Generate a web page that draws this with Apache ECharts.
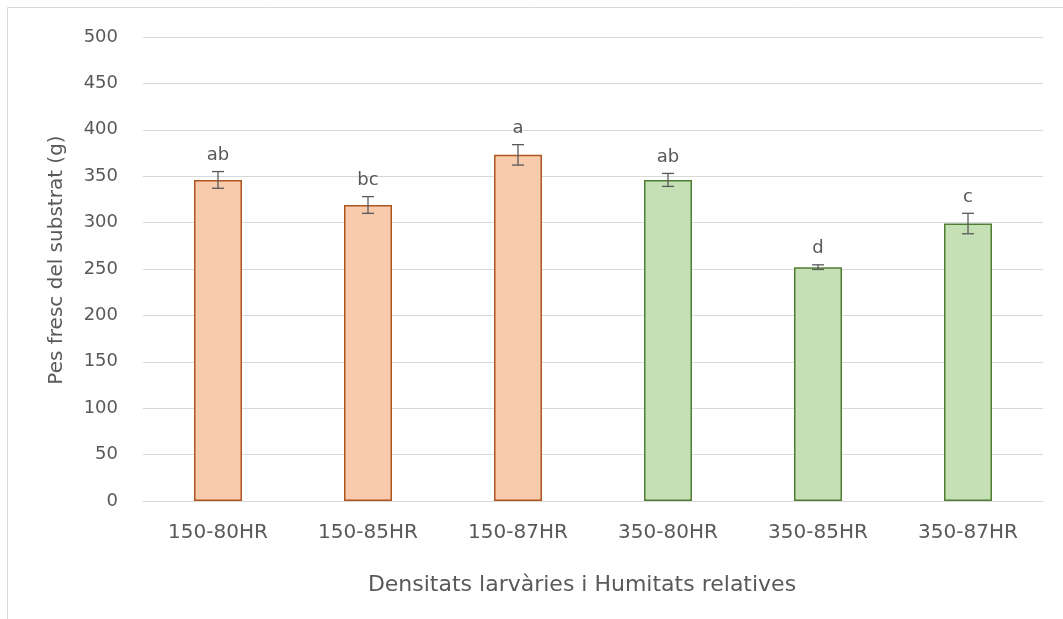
<!DOCTYPE html>
<html>
<head>
<meta charset="utf-8">
<script src="https://cdn.jsdelivr.net/npm/echarts@6/dist/echarts.min.js"></script>
<style>
  html, body { margin: 0; padding: 0; background: #fff; }
  #chart { width: 1063px; height: 619px; }
</style>
</head>
<body>
<div id="chart"></div>
<script>
// Fresh substrate weight by larval density and relative humidity
const categories = ['150-80HR', '150-85HR', '150-87HR', '350-80HR', '350-85HR', '350-87HR'];
const means = [346, 319, 373, 346, 252, 299];
const errors = [9, 9, 11, 7, 2.5, 11];
const letters = ['ab', 'bc', 'a', 'ab', 'd', 'c'];
const yTicks = [0, 50, 100, 150, 200, 250, 300, 350, 400, 450, 500];
const xTitle = 'Densitats larvàries i Humitats relatives';
const yTitle = 'Pes fresc del substrat (g)';

const fills = ['#F8CBAD', '#F8CBAD', '#F8CBAD', '#C5E0B4', '#C5E0B4', '#C5E0B4'];
const strokes = ['#AE5520', '#AE5520', '#AE5520', '#517D33', '#517D33', '#517D33'];
const textColor = '#595959';
const fontFamily = 'DejaVu Sans, Open Sans, sans-serif';

const chart = echarts.init(document.getElementById('chart'));

chart.setOption({
  animation: false,
  backgroundColor: '#fff',
  graphic: [
    {
      type: 'rect',
      shape: { x: 7.5, y: 7.5, width: 1100, height: 700 },
      style: { fill: 'none', stroke: '#D9D9D9', lineWidth: 1 },
      silent: true
    },
    {
      type: 'text',
      x: 582, y: 585,
      style: { text: xTitle, fill: textColor, font: '22px ' + fontFamily, align: 'center', verticalAlign: 'middle' }
    },
    {
      type: 'text',
      x: 57, y: 260,
      rotation: Math.PI / 2,
      style: { text: yTitle, fill: textColor, font: '20px ' + fontFamily, align: 'center', verticalAlign: 'middle' }
    }
  ],
  grid: { left: 143, right: 20, top: 37, bottom: 118 },
  xAxis: {
    type: 'category',
    data: categories,
    axisLine: { lineStyle: { color: '#D9D9D9', width: 1 } },
    axisTick: { show: false },
    axisLabel: { color: textColor, fontSize: 20, fontFamily, margin: 22 }
  },
  yAxis: {
    type: 'value',
    min: yTicks[0],
    max: yTicks[yTicks.length - 1],
    interval: 50,
    axisLine: { show: false },
    axisTick: { show: false },
    axisLabel: { color: textColor, fontSize: 18, fontFamily, margin: 25 },
    splitLine: { lineStyle: { color: '#D9D9D9', width: 1 } }
  },
  series: [
    {
      type: 'bar',
      barWidth: 48,
      data: means.map((v, i) => ({
        value: v,
        itemStyle: { color: fills[i], borderColor: strokes[i], borderWidth: 1.5 }
      }))
    },
    {
      // error bars with significance letters above them
      type: 'custom',
      z: 5,
      data: means.map((v, i) => [i, v, errors[i]]),
      renderItem: function (params, api) {
        const x = api.value(0);
        const m = api.value(1);
        const e = api.value(2);
        const top = api.coord([x, m + e]);
        const bot = api.coord([x, m - e]);
        const cap = 6;
        const style = { stroke: textColor, lineWidth: 1.3 };
        return {
          type: 'group',
          children: [
            { type: 'line', shape: { x1: top[0], y1: top[1], x2: bot[0], y2: bot[1] }, style },
            { type: 'line', shape: { x1: top[0] - cap, y1: top[1], x2: top[0] + cap, y2: top[1] }, style },
            { type: 'line', shape: { x1: bot[0] - cap, y1: bot[1], x2: bot[0] + cap, y2: bot[1] }, style },
            {
              type: 'text',
              style: {
                text: letters[params.dataIndex],
                x: top[0],
                y: top[1] - 7,
                align: 'center',
                verticalAlign: 'bottom',
                fill: textColor,
                font: '18px ' + fontFamily
              }
            }
          ]
        };
      }
    }
  ]
});
</script>
</body>
</html>
